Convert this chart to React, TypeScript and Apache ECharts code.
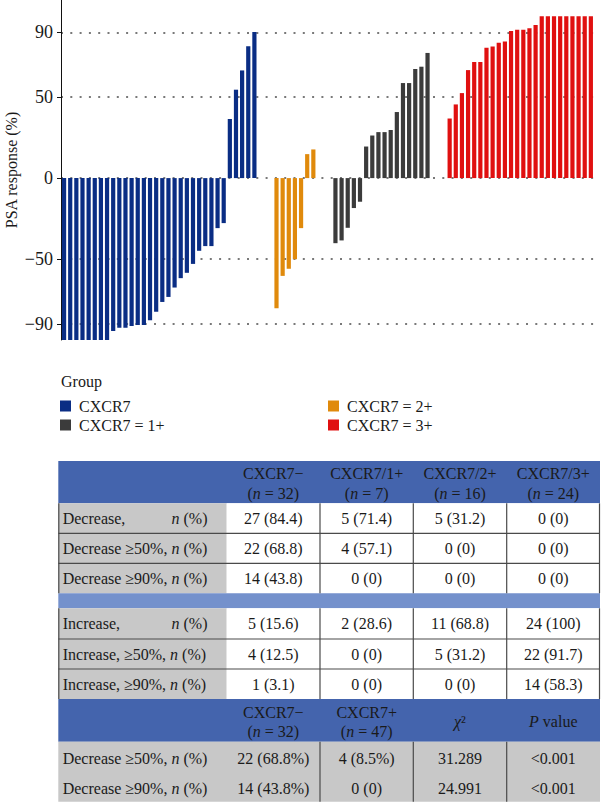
import React, { useEffect, useRef } from 'react';
import * as echarts from 'echarts';

// ---------- Chart data ----------
const blueValues = [
  -100, -100, -100, -100, -100, -100, -100, -100, -94.4, -92.5, -92.5, -91.3, -90.7, -90.7,
  -87.8, -82.6, -76.5, -73.4, -67.6, -61.8, -58.5, -53, -44.9, -42, -42, -30.9, -27.8,
  36.5, 54.6, 66.5, 81.4, 90.2,
];
const orangeValues = [-80.4, -60.4, -56, -50.1, -30.9, 14.8, 17.7];
const greyValues = [
  -40.2, -38.5, -30.7, -18.5, -14.6, 19.5, 26.3, 28.4, 28.4, 29.7, 40.8, 58.7, 58.7, 67.4, 68.8, 77.3,
];
const redValues = [
  36.8, 45.5, 52.5, 66.7, 71.7, 71.7, 80.5, 81.3, 83.6, 84.4, 90.8, 91.7, 91.7, 92.5, 94.6,
  100, 100, 100, 100, 100, 100, 100, 100, 100,
];
const groupNames = ['CXCR7', 'CXCR7 = 2+', 'CXCR7 = 1+', 'CXCR7 = 3+'];
const groupColors = ['#0a2d84', '#e08a0c', '#3b3b3b', '#e01010'];
const yTicks = [-90, -50, 0, 50, 90];
const legendLeftItems = ['CXCR7', 'CXCR7 = 1+'];
const legendRightItems = ['CXCR7 = 2+', 'CXCR7 = 3+'];

// ---------- Table data ----------
const topHeaders = [
  ['CXCR7−', '({i|n} = 32)'],
  ['CXCR7/1+', '({i|n} = 7)'],
  ['CXCR7/2+', '({i|n} = 16)'],
  ['CXCR7/3+', '({i|n} = 24)'],
];
const decreaseLabels = ['Decrease,', 'Decrease ≥50%, {i|n} (%)', 'Decrease ≥90%, {i|n} (%)'];
const decreaseValues = [
  ['27 (84.4)', '5 (71.4)', '5 (31.2)', '0 (0)'],
  ['22 (68.8)', '4 (57.1)', '0 (0)', '0 (0)'],
  ['14 (43.8)', '0 (0)', '0 (0)', '0 (0)'],
];
const increaseLabels = ['Increase,', 'Increase, ≥50%, {i|n} (%)', 'Increase, ≥90%, {i|n} (%)'];
const increaseValues = [
  ['5 (15.6)', '2 (28.6)', '11 (68.8)', '24 (100)'],
  ['4 (12.5)', '0 (0)', '5 (31.2)', '22 (91.7)'],
  ['1 (3.1)', '0 (0)', '0 (0)', '14 (58.3)'],
];
const bottomHeaders = [
  ['CXCR7−', '({i|n} = 32)'],
  ['CXCR7+', '({i|n} = 47)'],
  ['{i|χ}²'],
  ['{i|P} value'],
];
const bottomLabels = ['Decrease ≥50%, {i|n} (%)', 'Decrease ≥90%, {i|n} (%)'];
const bottomValues = [
  ['22 (68.8%)', '4 (8.5%)', '31.289', '<0.001'],
  ['14 (43.8%)', '0 (0)', '24.991', '<0.001'],
];

const FONT = '"Liberation Serif", "Times New Roman", serif';
const TEXT_COLOR = '#1a1a1a';
const RICH = {
  i: { fontStyle: 'italic', fontSize: 16, fontFamily: FONT, fill: TEXT_COLOR },
};

function txt(x: number, y: number, text: string, align = 'center') {
  return {
    type: 'text',
    x,
    y,
    silent: true,
    style: {
      text,
      rich: RICH,
      fontSize: 16,
      fontFamily: FONT,
      fill: TEXT_COLOR,
      align,
      verticalAlign: 'middle',
    },
  };
}
function rect(x: number, y: number, w: number, h: number, fill: string) {
  return { type: 'rect', silent: true, shape: { x, y, width: w, height: h }, style: { fill } };
}
function hline(x1: number, x2: number, y: number) {
  return { type: 'line', silent: true, shape: { x1, y1: y, x2, y2: y }, style: { stroke: '#4a4a4a', lineWidth: 1.2 } };
}
function vline(x: number, y1: number, y2: number) {
  return { type: 'line', silent: true, shape: { x1: x, y1, x2: x, y2 }, style: { stroke: '#4a4a4a', lineWidth: 1.2 } };
}

function buildTable() {
  const els: any[] = [];
  const colX = [58.3, 226.7, 320, 413.3, 506.7, 600];
  const colC = [273.3, 366.7, 460, 553.3];
  const L = colX[0];
  const R = colX[5];
  const W = R - L;
  const rows = [461, 503.3, 533.3, 563.3, 593.3, 608.3, 639, 669, 699, 741.7, 771.7, 801.7];
  const HEAD = '#4464ad';
  const SEP = '#7491cc';
  const GREY = '#c8c8c8';

  els.push(rect(L, rows[0], W, rows[1] - rows[0], HEAD));
  for (let r = 0; r < 3; r++) {
    const y0 = rows[1 + r];
    const y1 = rows[2 + r];
    els.push(rect(L, y0, colX[1] - L, y1 - y0, GREY));
    els.push(rect(colX[1], y0, R - colX[1], y1 - y0, '#ffffff'));
  }
  els.push(rect(L, rows[4], W, rows[5] - rows[4], SEP));
  for (let r = 0; r < 3; r++) {
    const y0 = rows[5 + r];
    const y1 = rows[6 + r];
    els.push(rect(L, y0, colX[1] - L, y1 - y0, GREY));
    els.push(rect(colX[1], y0, R - colX[1], y1 - y0, '#ffffff'));
  }
  els.push(rect(L, rows[8], W, rows[9] - rows[8], HEAD));
  els.push(rect(L, rows[9], W, rows[11] - rows[9], GREY));

  [rows[2], rows[3], rows[6], rows[7]].forEach((y) => els.push(hline(L, R, y)));
  [colX[2], colX[3], colX[4]].forEach((x) => {
    els.push(vline(x, rows[1], rows[4]));
    els.push(vline(x, rows[5], rows[8]));
    els.push(vline(x, rows[9], rows[11]));
  });
  [L + 0.5, R - 0.5].forEach((x) => {
    els.push(vline(x, rows[1], rows[4]));
    els.push(vline(x, rows[5], rows[8]));
  });

  topHeaders.forEach((h, i) => {
    els.push(txt(colC[i], 473.5, h[0]));
    els.push(txt(colC[i], 493, h[1]));
  });
  const labelX = 62.7;
  const nX = 207.5;
  const drawBlock = (labels: string[], values: string[][], rowStart: number) => {
    labels.forEach((lab, r) => {
      const cy = (rows[rowStart + r] + rows[rowStart + r + 1]) / 2;
      els.push(txt(labelX, cy, lab, 'left'));
      if (r === 0) els.push(txt(nX, cy, '{i|n} (%)', 'right'));
      values[r].forEach((v, c) => els.push(txt(colC[c], cy, v)));
    });
  };
  drawBlock(decreaseLabels, decreaseValues, 1);
  drawBlock(increaseLabels, increaseValues, 5);

  bottomHeaders.forEach((h, i) => {
    if (h.length === 2) {
      els.push(txt(colC[i], 712.5, h[0]));
      els.push(txt(colC[i], 731.5, h[1]));
    } else {
      els.push(txt(colC[i], 721, h[0]));
    }
  });
  bottomLabels.forEach((lab, r) => {
    const cy = (rows[9 + r] + rows[10 + r]) / 2 + 1.5;
    els.push(txt(labelX, cy, lab, 'left'));
    bottomValues[r].forEach((v, c) => els.push(txt(colC[c], cy, v)));
  });

  els.push(txt(61, 381, 'Group', 'left'));
  return els;
}

const GROUP_GAP = 2.6;

export default function App() {
  const ref = useRef<HTMLDivElement>(null);
  useEffect(() => {
    if (!ref.current) return;
    const chart = echarts.init(ref.current, undefined, { renderer: 'svg' });
    const allGroups = [blueValues, orangeValues, greyValues, redValues];
    let idx = 0;
    const series = allGroups.map((vals, gi) => {
      const data = vals.map((v) => {
        const x = idx + gi * GROUP_GAP;
        idx += 1;
        return [x, v];
      });
      return {
        type: 'bar',
        name: groupNames[gi],
        data,
        barWidth: 4.2,
        barGap: '-100%',
        itemStyle: { color: groupColors[gi] },
        emphasis: { disabled: true },
      };
    });
    const legendCommon = {
      orient: 'vertical',
      icon: 'rect',
      itemWidth: 11,
      itemHeight: 11,
      itemGap: 3,
      padding: 0,
      selectedMode: false,
      textStyle: { fontSize: 16, fontFamily: FONT, color: TEXT_COLOR, lineHeight: 15, padding: [0, 0, 0, 3] },
    };
    chart.setOption({
      animation: false,
      grid: { left: 61, right: 4, top: 0, height: 340, containLabel: false, outerBoundsMode: 'none' },
      xAxis: {
        type: 'value',
        min: -0.5,
        max: 86.8,
        show: false,
      },
      yAxis: {
        type: 'value',
        min: -100,
        max: 110,
        name: 'PSA response (%)',
        nameLocation: 'middle',
        nameGap: 42,
        nameMoveOverlap: false,
        nameTextStyle: { fontSize: 16, fontFamily: FONT, color: TEXT_COLOR },
        axisLine: { show: true, onZero: false, lineStyle: { color: '#111', width: 1 } },
        axisTick: { show: true, customValues: yTicks, length: 4, lineStyle: { color: '#111' } },
        axisLabel: {
          customValues: yTicks,
          margin: 8,
          fontSize: 18,
          fontFamily: FONT,
          color: TEXT_COLOR,
          formatter: (v: number) => (v < 0 ? '−' + Math.abs(v) : String(v)),
        },
        splitLine: { show: true, lineStyle: { type: [2, 7.3], color: '#4d4d4d', width: 1.6 } },
      },
      legend: [
        { ...legendCommon, data: legendLeftItems, left: 60, top: 398 },
        { ...legendCommon, data: legendRightItems, left: 328, top: 398 },
      ],
      series,
      graphic: buildTable(),
    });
    return () => chart.dispose();
  }, []);
  return (
    <div
      ref={ref}
      style={{ position: 'absolute', left: 0, top: 0, width: 601, height: 803, background: '#fff' }}
    />
  );
}
